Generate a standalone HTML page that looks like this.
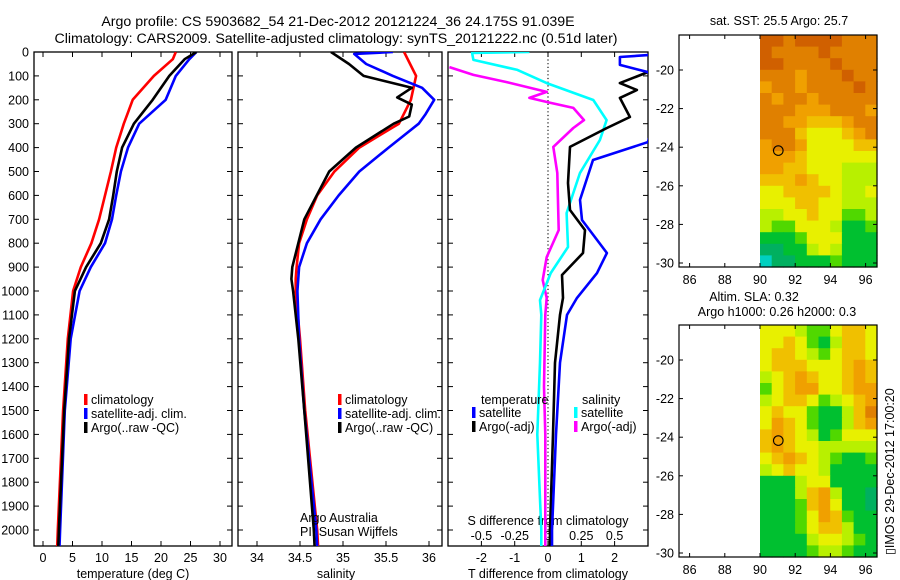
<!DOCTYPE html>
<html><head><meta charset="utf-8"><style>
html,body{margin:0;padding:0;background:#fff;}
svg{display:block;font-family:"Liberation Sans",sans-serif;}
text{fill:#000;}
</style></head><body>
<svg id="fig" width="900" height="580" viewBox="0 0 900 580" xmlns="http://www.w3.org/2000/svg">
<text x="338" y="26" font-size="14.2" text-anchor="middle">Argo profile: CS 5903682_54 21-Dec-2012 20121224_36 24.175S 91.039E</text>
<text x="336" y="43" font-size="14.2" text-anchor="middle">Climatology: CARS2009. Satellite-adjusted climatology: synTS_20121222.nc (0.51d later)</text>
<g id="layer"></g>
</svg>
<script>
// ---------- data ----------
const tempClimP = [0,30,100,200,300,400,500,600,700,800,900,1000,1200,1500,2000,2070];
const tempClim  = [22.5,22,18.8,15.2,13.7,12.4,11.5,10.5,9.5,8.2,6.4,5.1,4.2,3.4,2.5,2.4];
const tempSatP  = [0,30,100,200,300,400,500,600,700,800,900,1000,1200,1500,2000,2070];
const tempSat   = [26,24.8,22.5,20.8,16.3,14.4,13.2,12.4,11.7,10.5,8.1,6.2,4.7,3.7,2.9,2.8];
const tempArgoP = [0,30,100,200,300,400,500,600,700,800,900,1000,1200,1500,2000,2070];
const tempArgo  = [26,24,21.4,18.6,15.4,13.4,12.5,11.9,11.2,9.8,7.3,5.4,4.4,3.6,2.7,2.6];

const salClimP = [0,50,100,150,200,250,300,400,500,600,700,800,900,950,1000,1200,1500,2000,2070];
const salClim  = [35.71,35.78,35.85,35.82,35.79,35.72,35.65,35.19,34.9,34.7,34.58,34.49,34.46,34.45,34.45,34.5,34.56,34.7,34.71];
const salSatP  = [0,8,50,100,150,200,260,300,400,500,600,700,800,900,1000,1200,1500,2000,2070];
const salSat   = [35.58,35.13,35.27,35.58,35.92,36.06,35.96,35.88,35.53,35.19,34.95,34.74,34.58,34.49,34.47,34.49,34.55,34.69,34.7];
const salArgoP = [0,50,100,150,190,220,270,300,400,500,700,900,950,1000,1200,1500,2000,2070];
const salArgo  = [34.86,35.07,35.24,35.8,35.63,35.8,35.77,35.59,35.15,34.84,34.55,34.41,34.4,34.42,34.48,34.55,34.66,34.67];

const dTSatP  = [0,13,21,54,84,150,377,452,619,703,841,925,1029,1100,1300,1600,2000,2070];
const dTSat   = [3.5,3.0,2.16,2.16,3.0,3.5,3.0,1.35,0.96,1.02,1.77,1.47,0.87,0.57,0.36,0.24,0.12,0.12];
const dTArgoP = [30,84,130,159,192,272,318,397,548,661,745,841,933,1029,1100,1300,1600,2000,2070];
const dTArgo  = [3.3,3.0,2.16,2.67,2.16,2.46,1.77,0.66,0.6,0.66,1.11,1.05,0.42,0.45,0.36,0.21,0.15,0.06,0.06];
const dSSatP  = [0,4,33,75,130,201,285,368,506,674,816,925,1038,1100,1300,1600,2000,2070];
const dSSat   = [-0.14,-0.57,-0.56,-0.23,-0.01,0.34,0.44,0.39,0.24,0.14,0.15,0.02,-0.06,-0.05,-0.06,-0.08,-0.05,-0.05];
const dSArgoP = [63,96,126,167,192,213,234,285,318,397,506,745,858,954,1029,1100,1400,1600,2000,2070];
const dSArgo  = [-0.74,-0.56,-0.31,-0.01,-0.14,0.02,0.19,0.27,0.19,0.04,0.07,0.08,-0.01,-0.04,-0.01,-0.02,-0.03,-0.02,-0.02,-0.02];

const pressTicks = [0,100,200,300,400,500,600,700,800,900,1000,1100,1200,1300,1400,1500,1600,1700,1800,1900,2000];
const tempTicks = [0,5,10,15,20,25,30];
const salTicks = [34,34.5,35,35.5,36];
const dTTicks = [-2,-1,0,1,2];
const dSTicks = [-0.5,-0.25,0,0.25,0.5];
const lonTicks = [86,88,90,92,94,96];
const latTicks = [-20,-22,-24,-26,-28,-30];

const sstGrid = [
[9,9,8,9,9,9,9,8,8,8],[9,8,8,8,8,9,8,8,8,8],[9,9,8,8,8,8,9,8,8,8],[8,8,8,7,8,8,8,9,8,8],
[7,8,8,7,8,8,8,8,9,8],[8,7,8,8,7,8,8,8,8,8],[8,8,8,7,7,7,8,8,8,7],[8,8,7,7,6,6,6,7,8,8],
[8,8,8,6,5,5,5,6,7,8],[7,8,8,7,5,5,5,5,6,6],[7,7,7,6,5,5,5,5,5,5],[7,7,6,6,5,5,5,4,4,4],
[6,6,6,7,6,5,5,4,4,4],[5,5,6,6,6,6,5,4,4,5],[5,5,5,6,6,5,5,4,4,4],[4,4,5,5,6,5,5,3,3,4],
[4,3,3,5,5,5,4,2,2,3],[2,2,2,3,5,5,5,2,2,2],[1,1,2,2,4,5,4,2,2,2],[0,1,1,2,2,2,3,2,2,2]];
const slaGrid = [
[5,5,5,4,3,3,5,6,6,5],[5,5,6,5,3,2,4,6,6,5],[5,6,6,5,4,3,5,6,6,5],[5,6,6,6,5,5,5,6,7,6],
[4,5,6,7,6,5,5,6,7,6],[3,5,6,7,7,5,5,6,7,7],[4,5,6,6,5,3,4,5,6,7],[5,6,5,5,3,2,2,4,6,8],
[5,7,6,5,3,2,2,4,6,7],[6,7,6,5,4,2,3,5,5,5],[6,7,6,5,5,4,4,4,4,4],[5,6,7,6,5,4,3,2,2,3],
[4,5,6,5,5,4,2,2,2,2],[2,2,2,4,5,5,2,2,2,2],[2,2,2,4,6,7,4,2,2,1],[2,2,2,3,6,7,5,2,2,1],
[2,2,2,3,5,7,6,3,2,2],[2,2,2,3,5,6,6,4,2,2],[2,2,2,2,4,5,5,4,3,2],[2,2,2,2,3,4,4,3,2,2]];
const argoLon = 91.039, argoLat = -24.175;

// ---------- helpers ----------
const NS = "http://www.w3.org/2000/svg";
const layer = document.getElementById('layer');
function mk(tag, attrs, parent){const e=document.createElementNS(NS,tag);for(const k in attrs)e.setAttribute(k,attrs[k]);(parent||layer).appendChild(e);return e;}
function txt(x,y,s,size,anchor,parent){const t=mk('text',{x:x,y:y,'font-size':size||13,'text-anchor':anchor||'start'},parent);t.textContent=s;return t;}

const TOP=52, BOT=546;
const yP = p => TOP + p*0.239;
const xT = v => 43 + 5.9*v;
const xS = v => 257 + 86*(v-34);
const xDT = v => 548 + 33.3*v;
const xDS = v => 548 + 133.2*v;

const defs = mk('defs',{});
function clip(id,x0,x1){const c=mk('clipPath',{id:id},defs);mk('rect',{x:x0,y:TOP,width:x1-x0,height:BOT-TOP},c);}
clip('c1',34,232);clip('c2',238,442);clip('c3',448,648);

function series(P,V,xf,color,clipId,name){
  const pts=P.map((p,i)=>xf(V[i]).toFixed(1)+','+yP(p).toFixed(1)).join(' ');
  const l=mk('polyline',{points:pts,fill:'none',stroke:color,'stroke-width':2.6,'stroke-linejoin':'round','clip-path':'url(#'+clipId+')'});
  
  
}
function frame(x0,x1,name){
  const r=mk('rect',{x:x0,y:TOP,width:x1-x0,height:BOT-TOP,fill:'none',stroke:'#000','stroke-width':1.3});
  
  
  pressTicks.forEach(p=>{mk('line',{x1:x0,x2:x0+5,y1:yP(p),y2:yP(p),stroke:'#000'});mk('line',{x1:x1,x2:x1-5,y1:yP(p),y2:yP(p),stroke:'#000'});});
}

// ---------- panel 1 ----------
frame(34,232,'temperature-panel-frame');
pressTicks.forEach(p=>{const t=txt(29,yP(p)+4.5,String(p),12.5,'end');});
tempTicks.forEach(v=>{mk('line',{x1:xT(v),x2:xT(v),y1:TOP,y2:TOP+5,stroke:'#000'});mk('line',{x1:xT(v),x2:xT(v),y1:BOT,y2:BOT-5,stroke:'#000'});
  const t=txt(xT(v),562,String(v),12.5,'middle');});
{const t=txt(133,578,'temperature (deg C)',12.5,'middle');}
series(tempClimP,tempClim,xT,'#ff0000','c1','temp-climatology-line');
series(tempSatP,tempSat,xT,'#0000ff','c1','temp-satellite-line');
series(tempArgoP,tempArgo,xT,'#000000','c1','temp-argo-line');

// ---------- panel 2 ----------
frame(238,442,'salinity-panel-frame');
salTicks.forEach(v=>{mk('line',{x1:xS(v),x2:xS(v),y1:TOP,y2:TOP+5,stroke:'#000'});mk('line',{x1:xS(v),x2:xS(v),y1:BOT,y2:BOT-5,stroke:'#000'});
  const t=txt(xS(v),562,String(v),12.5,'middle');});
{const t=txt(336,578,'salinity',12.5,'middle');}
series(salClimP,salClim,xS,'#ff0000','c2','sal-climatology-line');
series(salSatP,salSat,xS,'#0000ff','c2','sal-satellite-line');
series(salArgoP,salArgo,xS,'#000000','c2','sal-argo-line');
{const t=txt(300,522,'Argo Australia',12.5);
 const u=txt(300,536,'PI: Susan Wijffels',12.5);}

// legends panels 1 & 2
function legend(x,y,color,label,name){
  const g=mk('g',{});
  mk('rect',{x:x,y:y-10,width:3.5,height:11,fill:color},g);
  txt(x+7,y,label,12.5,'start',g);
}
[[84,'p1'],[338,'p2']].forEach(([lx,k])=>{
  legend(lx,404,'#ff0000','climatology',k+'-legend-climatology');
  legend(lx,418,'#0000ff','satellite-adj. clim.',k+'-legend-satellite');
  legend(lx,432,'#000000','Argo(..raw -QC)',k+'-legend-argo');
});

// ---------- panel 3 ----------
frame(448,648,'difference-panel-frame');
{const z=mk('line',{x1:xDT(0),x2:xDT(0),y1:TOP,y2:BOT,stroke:'#000','stroke-dasharray':'1.2,2.5','stroke-width':1.1});}
dTTicks.forEach(v=>{mk('line',{x1:xDT(v),x2:xDT(v),y1:TOP,y2:TOP+5,stroke:'#000'});mk('line',{x1:xDT(v),x2:xDT(v),y1:BOT,y2:BOT-5,stroke:'#000'});
  const t=txt(xDT(v),562,String(v),12.5,'middle');});
dSTicks.forEach(v=>{const t=txt(xDS(v),540,String(v),12.5,'middle');});
{const t=txt(548,525,'S difference from climatology',12.5,'middle');
 const u=txt(548,578,'T difference from climatology',12.5,'middle');}
series(dSArgoP,dSArgo,xDS,'#ff00ff','c3','s-diff-argo-line');
series(dSSatP,dSSat,xDS,'#00ffff','c3','s-diff-satellite-line');
series(dTArgoP,dTArgo,xDT,'#000000','c3','t-diff-argo-line');
series(dTSatP,dTSat,xDT,'#0000ff','c3','t-diff-satellite-line');
{const t=txt(481,404,'temperature',12.5);
 const u=txt(582,404,'salinity',12.5);}
legend(472,417,'#0000ff','satellite','legend-t-satellite');
legend(472,431,'#000000','Argo(-adj)','legend-t-argo');
legend(574,417,'#00ffff','satellite','legend-s-satellite');
legend(574,431,'#ff00ff','Argo(-adj)','legend-s-argo');

// ---------- maps ----------
const cmap=['#00d0c0','#00b060','#00c030','#50d800','#b8f000','#e8f000','#f0c000','#f0a000','#e08000','#d06000'];
function map(top,grid,name){
  const L=679,R=877,H=232;
  const xL = lon => 760 + 17.6*(lon-90);
  const yL = lat => top + 35 + (-20-lat)*19.3;
  const g=mk('g',{});
  const rows=grid.length, cols=grid[0].length;
  const lon0=90, lon1=(R-760)/17.6+90, lat0=-20+(35/19.3), lat1=-20-(H-35)/19.3;
  const dLon=(lon1-lon0)/cols, dLat=(lat0-lat1)/rows;
  grid.forEach((row,r)=>row.forEach((v,c)=>{
    const x=xL(lon0+c*dLon), y=yL(lat0-r*dLat);
    const cell=mk('rect',{x:x.toFixed(1),y:y.toFixed(1),width:(17.6*dLon+0.6).toFixed(1),height:(19.3*dLat+0.6).toFixed(1),fill:cmap[v]},g);
    
    
  }));
  mk('rect',{x:L,y:top,width:R-L,height:H,fill:'none',stroke:'#000','stroke-width':1.2},g);
  lonTicks.forEach(v=>{mk('line',{x1:xL(v),x2:xL(v),y1:top,y2:top+4,stroke:'#000'},g);mk('line',{x1:xL(v),x2:xL(v),y1:top+H,y2:top+H-4,stroke:'#000'},g);
    const t=txt(xL(v),top+H+17,String(v),12.5,'middle',g);});
  latTicks.forEach(v=>{mk('line',{x1:L,x2:L+4,y1:yL(v),y2:yL(v),stroke:'#000'},g);mk('line',{x1:R,x2:R-4,y1:yL(v),y2:yL(v),stroke:'#000'},g);
    const t=txt(674,yL(v)+4.5,String(v),12.5,'end',g);});
  const c=mk('circle',{cx:xL(argoLon),cy:yL(argoLat),r:4.8,fill:'none',stroke:'#000','stroke-width':1.1},g);
  
  
}
map(35,sstGrid,'sst-map');
map(325,slaGrid,'sla-map');
{const t=txt(779,25,'sat. SST: 25.5 Argo: 25.7',12.5,'middle');
 const u=txt(754,301,'Altim. SLA: 0.32',12.5,'middle');
 const w=txt(777,316,'Argo h1000: 0.26 h2000: 0.3',12.5,'middle');
 const s=txt(0,0,'\u25AFIMOS 29-Dec-2012 17:00:20',12.5,'start');s.setAttribute('transform','translate(894,555) rotate(-90)');
 }
</script>
</body></html>
